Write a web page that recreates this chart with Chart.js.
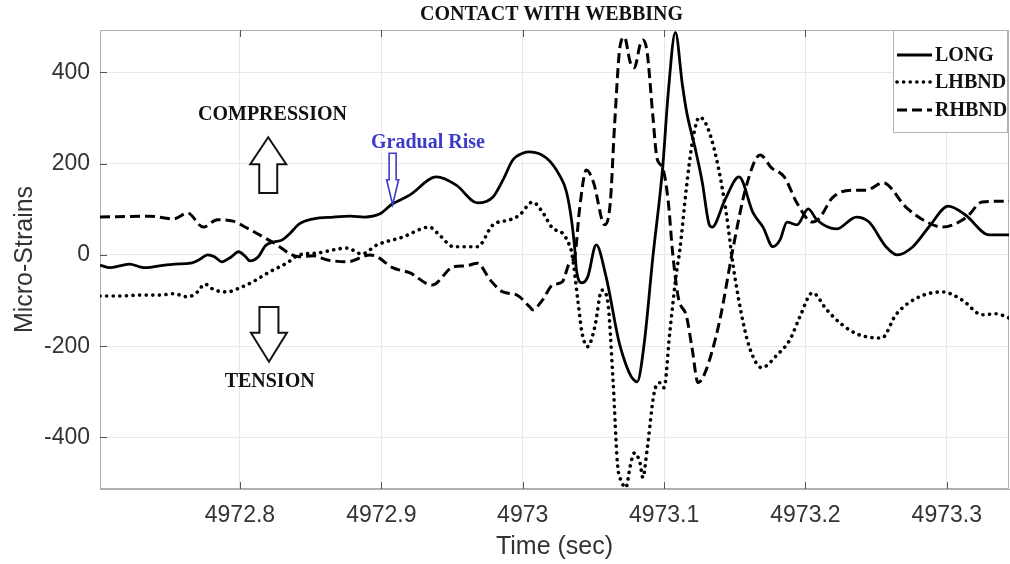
<!DOCTYPE html>
<html>
<head>
<meta charset="utf-8">
<script src="https://cdn.jsdelivr.net/npm/chart.js@4.4.0/dist/chart.umd.min.js"></script>
<style>
  html, body { margin: 0; padding: 0; background: #fff; }
</style>
</head>
<body>
<canvas id="strain" width="1010" height="564"></canvas>
<script>
const xTicks = [4972.8, 4972.9, 4973.0, 4973.1, 4973.2, 4973.3];
const yTicks = [-400, -200, 0, 200, 400];
const seriesNames = ["LONG", "LHBND", "RHBND"];

// LONG gauge
const longTime = [4972.701, 4972.708, 4972.715, 4972.722, 4972.729, 4972.734, 4972.743, 4972.754, 4972.765, 4972.772,
  4972.777, 4972.782, 4972.787, 4972.794, 4972.799, 4972.804, 4972.807, 4972.813, 4972.818, 4972.823,
  4972.830, 4972.835, 4972.842, 4972.852, 4972.866, 4972.878, 4972.888, 4972.899, 4972.907, 4972.920,
  4972.939, 4972.953, 4972.968, 4972.979, 4972.986, 4972.993, 4973.000, 4973.005, 4973.017, 4973.026,
  4973.031, 4973.035, 4973.037, 4973.038, 4973.042, 4973.046, 4973.052, 4973.059, 4973.069, 4973.081,
  4973.086, 4973.092, 4973.099, 4973.103, 4973.108, 4973.113, 4973.116, 4973.122, 4973.127, 4973.132,
  4973.134, 4973.143, 4973.153, 4973.163, 4973.170, 4973.177, 4973.182, 4973.187, 4973.194, 4973.202,
  4973.208, 4973.222, 4973.236, 4973.245, 4973.257, 4973.265, 4973.276, 4973.288, 4973.301, 4973.313,
  4973.330, 4973.344];
const longStrain = [-22, -28, -24, -20, -26, -28, -24, -20, -18, -9,
  0, -4, -15, -4, 7, -4, -13, -4, 20, 28,
  33, 46, 68, 79, 83, 85, 83, 90, 110, 131,
  171, 153, 114, 127, 164, 208, 223, 226, 212, 175,
  138, 66, 7, -33, -61, -48, 22, -48, -201, -278,
  -193, -7, 191, 357, 488, 372, 313, 234, 160, 66,
  61, 120, 171, 92, 61, 18, 33, 72, 66, 101,
  77, 57, 83, 72, 18, 0, 18, 64, 107, 88,
  44, 44];

// LHBND gauge
const lhTime = [4972.701, 4972.715, 4972.729, 4972.743, 4972.753, 4972.763, 4972.770, 4972.775, 4972.782, 4972.791,
  4972.800, 4972.809, 4972.821, 4972.833, 4972.842, 4972.854, 4972.876, 4972.886, 4972.897, 4972.915,
  4972.934, 4972.941, 4972.951, 4972.968, 4972.979, 4972.991, 4972.998, 4973.007, 4973.014, 4973.021,
  4973.028, 4973.033, 4973.035, 4973.039, 4973.042, 4973.046, 4973.051, 4973.056, 4973.060, 4973.064,
  4973.067, 4973.070, 4973.073, 4973.076, 4973.079, 4973.083, 4973.085, 4973.088, 4973.093, 4973.097,
  4973.100, 4973.104, 4973.109, 4973.111, 4973.116, 4973.120, 4973.125, 4973.130, 4973.137, 4973.144,
  4973.149, 4973.156, 4973.161, 4973.169, 4973.180, 4973.189, 4973.196, 4973.205, 4973.215, 4973.226,
  4973.238, 4973.254, 4973.264, 4973.279, 4973.297, 4973.311, 4973.325, 4973.335, 4973.344];
const lhStrain = [-90, -90, -88, -88, -85, -92, -81, -64, -77, -81,
  -72, -59, -37, -18, 0, 4, 15, 2, 22, 39,
  61, 44, 18, 18, 66, 77, 88, 116, 94, 59,
  48, 22, 0, -99, -171, -201, -158, -77, -99, -280,
  -456, -497, -510, -464, -434, -456, -488, -427, -302, -280,
  -291, -171, -33, 7, 153, 247, 302, 285, 212, 92,
  -26, -149, -208, -247, -219, -186, -136, -83, -120, -153,
  -175, -182, -131, -94, -81, -99, -131, -129, -138];

// RHBND gauge
const rhTime = [4972.701, 4972.736, 4972.753, 4972.763, 4972.774, 4972.784, 4972.795, 4972.805, 4972.823, 4972.842,
  4972.852, 4972.862, 4972.876, 4972.892, 4972.897, 4972.908, 4972.920, 4972.936, 4972.951, 4972.960,
  4972.968, 4972.977, 4972.986, 4972.996, 4973.005, 4973.007, 4973.014, 4973.021, 4973.028, 4973.033,
  4973.037, 4973.040, 4973.045, 4973.050, 4973.058, 4973.062, 4973.065, 4973.069, 4973.072, 4973.076,
  4973.079, 4973.083, 4973.085, 4973.088, 4973.092, 4973.095, 4973.099, 4973.103, 4973.106, 4973.110,
  4973.116, 4973.120, 4973.124, 4973.129, 4973.139, 4973.149, 4973.158, 4973.168, 4973.176, 4973.185,
  4973.194, 4973.205, 4973.210, 4973.219, 4973.233, 4973.243, 4973.255, 4973.271, 4973.286, 4973.297,
  4973.314, 4973.325, 4973.344];
const rhStrain = [83, 85, 79, 92, 61, 77, 74, 59, 28, -4,
  -2, -11, -15, 0, -4, -28, -39, -66, -26, -24,
  -18, -55, -81, -88, -114, -120, -99, -66, -59, -18,
  0, 94, 186, 160, 66, 116, 285, 460, 477, 423,
  410, 460, 471, 445, 307, 212, 191, 116, 7, -92,
  -136, -208, -280, -258, -149, 18, 149, 219, 191, 171,
  114, 72, 81, 125, 142, 142, 158, 105, 72, 61,
  83, 116, 118];

const serif = "'Liberation Serif', 'Times New Roman', serif";
const sans = "'Liberation Sans', Arial, Helvetica, sans-serif";

function zip(xs, ys) {
  return xs.map((x, i) => ({ x: x, y: ys[i] }));
}

// outlined block arrow, tip at (x, tipY), pointing up or down
function blockArrow(ctx, x, tipY, tailY, headLen, headHalf, shaftHalf, color, lw) {
  const dir = tailY > tipY ? 1 : -1;
  const baseY = tipY + dir * headLen;
  ctx.save();
  ctx.beginPath();
  ctx.moveTo(x, tipY);
  ctx.lineTo(x + headHalf, baseY);
  ctx.lineTo(x + shaftHalf, baseY);
  ctx.lineTo(x + shaftHalf, tailY);
  ctx.lineTo(x - shaftHalf, tailY);
  ctx.lineTo(x - shaftHalf, baseY);
  ctx.lineTo(x - headHalf, baseY);
  ctx.closePath();
  ctx.fillStyle = "#fff";
  ctx.fill();
  ctx.strokeStyle = color;
  ctx.lineWidth = lw;
  ctx.lineJoin = "miter";
  ctx.stroke();
  ctx.restore();
}

const decorations = {
  id: "decorations",
  beforeDatasetsDraw(chart) {
    const { ctx, chartArea: a, scales } = chart;
    ctx.save();
    ctx.strokeStyle = "#b0b0b0";
    ctx.lineWidth = 1;
    ctx.strokeRect(a.left + 0.5, a.top + 0.5, a.right - a.left - 1, a.bottom - a.top - 1);
    // inward tick marks
    ctx.strokeStyle = "#555";
    ctx.beginPath();
    xTicks.forEach(v => {
      const px = Math.round(scales.x.getPixelForValue(v)) + 0.5;
      ctx.moveTo(px, a.bottom); ctx.lineTo(px, a.bottom - 7);
      ctx.moveTo(px, a.top); ctx.lineTo(px, a.top + 7);
    });
    yTicks.forEach(v => {
      const py = Math.round(scales.y.getPixelForValue(v)) + 0.5;
      ctx.moveTo(a.left, py); ctx.lineTo(a.left + 7, py);
    });
    ctx.stroke();
    ctx.restore();
  },
  afterDatasetsDraw(chart) {
    const { ctx, chartArea: a, scales } = chart;
    const X = v => scales.x.getPixelForValue(v);
    const Y = v => scales.y.getPixelForValue(v);
    ctx.save();
    ctx.textAlign = "center";
    ctx.textBaseline = "middle";
    ctx.font = "bold 20px " + serif;
    ctx.fillStyle = "#111";
    ctx.fillText("CONTACT WITH WEBBING", (a.left + a.right) / 2 - 3, 15);

    ctx.fillText("COMPRESSION", X(4972.823), Y(307));
    ctx.fillText("TENSION", X(4972.821), Y(-278));
    blockArrow(ctx, X(4972.820), Y(258), Y(136), 27, 18, 9, "#111", 2);
    blockArrow(ctx, X(4972.8205), Y(-234), Y(-114), 29, 18, 9.5, "#111", 2);

    ctx.fillStyle = "#3b3bc8";
    ctx.fillText("Gradual Rise", X(4972.933), Y(245));
    blockArrow(ctx, X(4972.908), Y(110), Y(223), 25, 6, 3.5, "#3b3bc8", 1.6);

    // legend box
    const bx = a.right - 116, by = a.top, bw = 115, bh = 103;
    ctx.fillStyle = "#fff";
    ctx.fillRect(bx, by, bw, bh);
    ctx.strokeStyle = "#b0b0b0";
    ctx.lineWidth = 1;
    ctx.strokeRect(bx + 0.5, by + 0.5, bw - 1, bh - 1);
    const rows = [25, 52, 80];
    chart.data.datasets.forEach((ds, i) => {
      const ry = by + rows[i];
      ctx.save();
      ctx.strokeStyle = ds.borderColor;
      ctx.lineWidth = ds.borderWidth;
      ctx.lineCap = ds.borderCapStyle || "butt";
      ctx.setLineDash(ds.borderDash || []);
      ctx.beginPath();
      ctx.moveTo(bx + 4, ry);
      ctx.lineTo(bx + 39, ry);
      ctx.stroke();
      ctx.restore();
      ctx.fillStyle = "#111";
      ctx.textAlign = "left";
      ctx.fillText(ds.label, bx + 42, ry + 1);
    });
    ctx.restore();
  }
};

new Chart(document.getElementById("strain"), {
  type: "line",
  data: {
    datasets: [
      {
        label: seriesNames[0],
        data: zip(longTime, longStrain),
        borderColor: "#000",
        borderWidth: 2.8,
        pointRadius: 0,
        cubicInterpolationMode: "monotone",
      },
      {
        label: seriesNames[1],
        data: zip(lhTime, lhStrain),
        borderColor: "#000",
        borderWidth: 3.6,
        borderDash: [0.1, 6.5],
        borderCapStyle: "round",
        pointRadius: 0,
        cubicInterpolationMode: "monotone",
      },
      {
        label: seriesNames[2],
        data: zip(rhTime, rhStrain),
        borderColor: "#000",
        borderWidth: 3,
        borderDash: [10, 5],
        pointRadius: 0,
        cubicInterpolationMode: "monotone",
      },
    ],
  },
  options: {
    responsive: false,
    animation: false,
    devicePixelRatio: 1,
    layout: { padding: { top: 30, right: 1, left: 0, bottom: 0 } },
    plugins: {
      legend: { display: false },
      tooltip: { enabled: false },
    },
    scales: {
      x: {
        type: "linear",
        min: 4972.701,
        max: 4973.344,
        afterBuildTicks: s => { s.ticks = xTicks.map(v => ({ value: v })); },
        afterFit: s => { s.height = 75; },
        grid: { color: "#e8e8e8", drawTicks: false },
        border: { color: "#b0b0b0" },
        ticks: {
          autoSkip: false,
          maxRotation: 0,
          padding: 13,
          color: "#333",
          font: { family: sans, size: 23 },
          callback: v => String(Number(v.toFixed(1))),
        },
        title: {
          display: true,
          text: "Time (sec)",
          color: "#333",
          font: { family: sans, size: 25 },
          padding: { top: 0, bottom: 2 },
        },
      },
      y: {
        min: -513,
        max: 493,
        afterBuildTicks: s => { s.ticks = yTicks.map(v => ({ value: v })); },
        afterFit: s => { s.width = 100; },
        grid: { color: "#e8e8e8", drawTicks: false },
        border: { color: "#b0b0b0" },
        ticks: {
          padding: 10,
          color: "#333",
          font: { family: sans, size: 23 },
        },
        title: {
          display: true,
          text: "Micro-Strains",
          color: "#333",
          font: { family: sans, size: 25 },
          padding: { top: 10, bottom: 0 },
        },
      },
    },
  },
  plugins: [decorations],
});
</script>
</body>
</html>
